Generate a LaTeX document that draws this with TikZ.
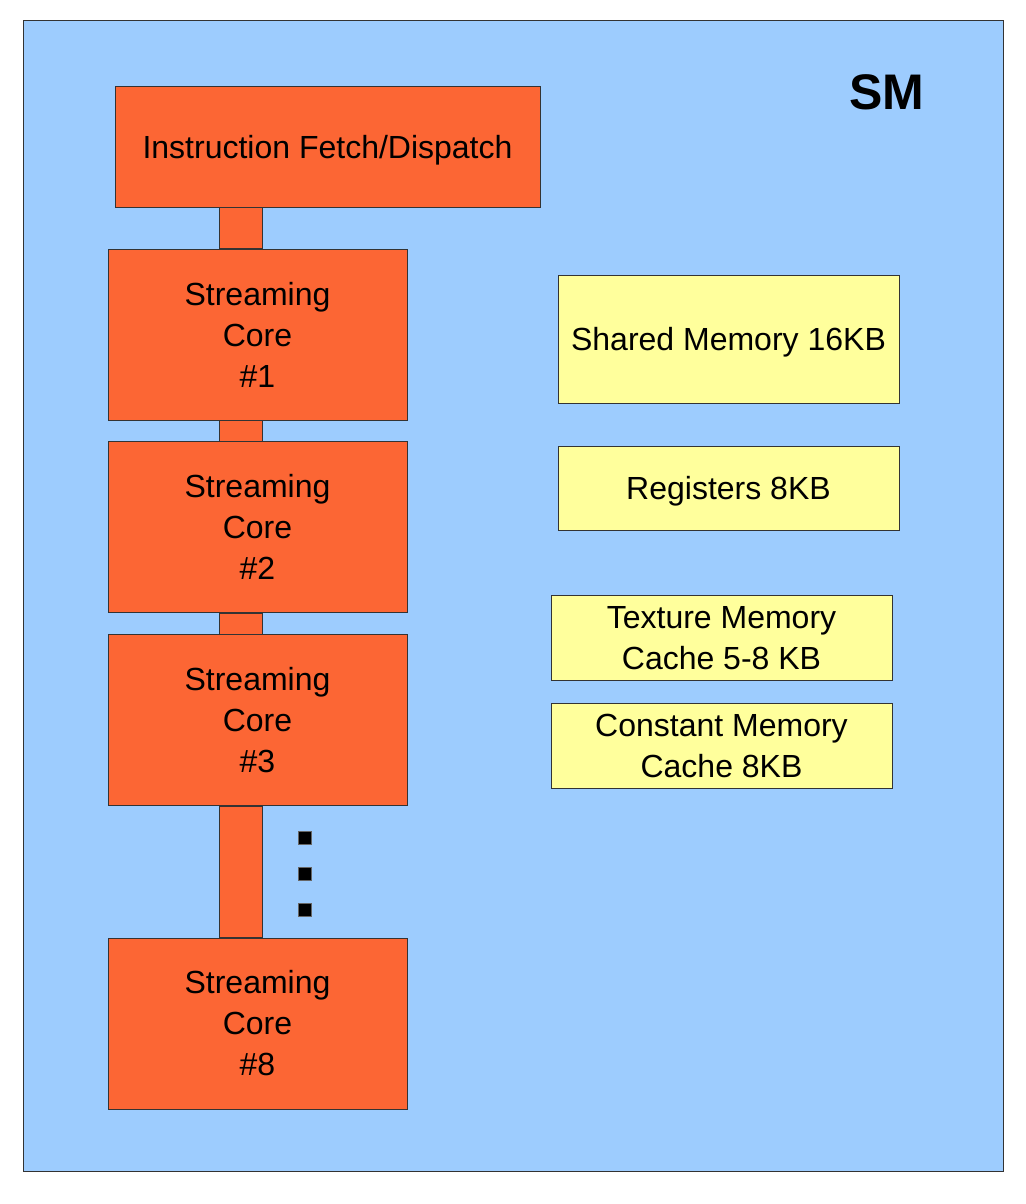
\documentclass[tikz,border=0pt]{standalone}
\usepackage{fontspec}
\setmainfont{Liberation Sans}
\usetikzlibrary{calc,positioning}
\definecolor{smblue}{HTML}{9DCCFE}
\definecolor{smorange}{HTML}{FC6634}
\definecolor{smyellow}{HTML}{FFFF9C}

\begin{document}
\begin{tikzpicture}[x=0.5pt,y=-0.5pt,
lab/.style={font=\fontsize{16}{20.5}\selectfont,align=center,inner sep=0pt},
core/.style={rectangle,draw=black!80,fill=smorange,minimum width=149.5pt,minimum height=85.5pt},
mem/.style={rectangle,draw=black!80,fill=smyellow,minimum width=170.5pt},
bar/.style={draw=black!80,fill=smorange},
dotbox/.style={rectangle,draw=black!60,fill=black,minimum size=6.5pt,inner sep=0pt}]
	\useasboundingbox (0,0) rectangle (1026,1204);
	%streaming multiprocessor
	\draw[draw=black!80,fill=smblue] (23,20) rectangle (1003,1171);
	\node[font=\fontsize{25}{30}\selectfont\bfseries,inner sep=0pt] at (887,92) (sm) {SM};
	%dispatch and cores
	\node[core,lab,text depth=0pt,minimum width=212.5pt,minimum height=60.5pt] at (327.5,146.5) (ifd) {Instruction Fetch/Dispatch};
	\node[core,lab] at (257.5,334.5) (core1) {Streaming\\Core\\\#1};
	\node[core,lab,below=10.5pt of core1] (core2) {Streaming\\Core\\\#2};
	\node[core,lab,below=10.5pt of core2] (core3) {Streaming\\Core\\\#3};
	\node[core,lab] at (257.5,1023.5) (core8) {Streaming\\Core\\\#8};
	\foreach \a/\b in {ifd/core1,core1/core2,core2/core3,core3/core8}
		\filldraw[bar] ([xshift=56pt]\b.north west) rectangle ([xshift=77.5pt]\b.north west |- \a.south);
	%dots
	\node[dotbox] at (304.5,838) (dot1) {};
	\node[dotbox] at (304.5,874) (dot2) {};
	\node[dotbox] at (304.5,910) (dot3) {};
	%memories
	\node[mem,lab,text depth=0pt,minimum height=64pt] at (728.5,339) (shm) {Shared Memory 16KB};
	\node[mem,lab,text depth=0pt,minimum height=42pt] at (728.5,488) (reg) {Registers 8KB};
	\node[mem,lab,minimum height=42.5pt] at (721.5,638) (tex) {Texture Memory\\Cache 5-8 KB};
	\node[mem,lab,minimum height=42.5pt,below=11pt of tex] (cst) {Constant Memory\\Cache 8KB};
\end{tikzpicture}
\end{document}
